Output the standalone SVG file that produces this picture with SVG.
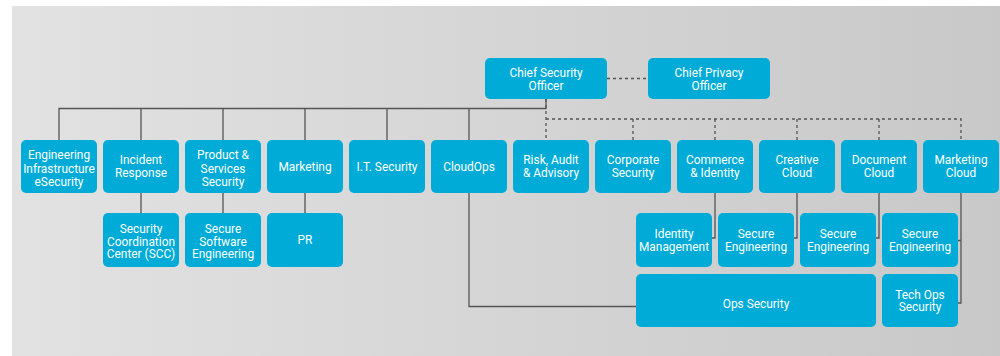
<svg xmlns="http://www.w3.org/2000/svg" width="1000" height="356" viewBox="0 0 1000 356">
<defs>
<linearGradient id="bg" x1="0" y1="0" x2="1" y2="0">
<stop offset="0" stop-color="#e2e2e2"/>
<stop offset="1" stop-color="#c8c8c8"/>
</linearGradient>
<style>
.b{fill:#00acd7;}
.t{font-family:Roboto,"Liberation Sans",sans-serif;font-size:11.9px;fill:#ffffff;text-anchor:middle;}
.c{fill:none;stroke:#555555;stroke-width:1.3;}
.d{fill:none;stroke:#555555;stroke-width:1.3;stroke-dasharray:3 3;}
</style>
</defs>
<rect x="0" y="0" width="1000" height="356" fill="#ffffff"/>
<rect x="12" y="6" width="988" height="350" fill="url(#bg)"/>
<g id="connectors">
<path class="d" d="M607 78.5H648"/>
<path class="c" d="M59 140V108.5H546V99"/>
<path class="c" d="M141 108.5V140M223 108.5V140M305 108.5V140M387 108.5V140M469 108.5V140"/>
<path class="d" d="M546 99V140"/>
<path class="d" d="M546 119H961V140M633 119V140M715 119V140M797 119V140M879 119V140"/>
<path class="c" d="M141 193V213M223 193V213M305 193V213"/>
<path class="c" d="M469 193V306.5H636"/>
<path class="c" d="M715 193V238H712"/>
<path class="c" d="M797 193V238H794"/>
<path class="c" d="M879 193V238H876"/>
<path class="c" d="M961 193V303H958M961 240.5H958"/>
</g>
<g id="cso"><rect class="b" x="485" y="58" width="122" height="41" rx="5"/><text class="t" x="546" y="76.6">Chief Security</text><text class="t" x="546" y="90">Officer</text></g>
<g id="cpo"><rect class="b" x="648" y="58" width="122" height="41" rx="5"/><text class="t" x="709" y="76.6">Chief Privacy</text><text class="t" x="709" y="90">Officer</text></g>
<g id="eng"><rect class="b" x="21" y="140" width="76" height="53" rx="5"/><text class="t" x="59" y="159.3">Engineering</text><text class="t" x="59" y="172.5">Infrastructure</text><text class="t" x="59" y="185.5">eSecurity</text></g>
<g id="incident"><rect class="b" x="103" y="140" width="76" height="53" rx="5"/><text class="t" x="141" y="164.3">Incident</text><text class="t" x="141" y="177.2">Response</text></g>
<g id="product"><rect class="b" x="185" y="140" width="76" height="53" rx="5"/><text class="t" x="223" y="159.3">Product &amp;</text><text class="t" x="223" y="172.5">Services</text><text class="t" x="223" y="185.5">Security</text></g>
<g id="marketing"><rect class="b" x="267" y="140" width="76" height="53" rx="5"/><text class="t" x="305" y="170.5">Marketing</text></g>
<g id="itsec"><rect class="b" x="349" y="140" width="76" height="53" rx="5"/><text class="t" x="387" y="170.5">I.T. Security</text></g>
<g id="cloudops"><rect class="b" x="431" y="140" width="76" height="53" rx="5"/><text class="t" x="469" y="170.5">CloudOps</text></g>
<g id="risk"><rect class="b" x="513" y="140" width="76" height="53" rx="5"/><text class="t" x="551" y="164.3">Risk, Audit</text><text class="t" x="551" y="177.2">&amp; Advisory</text></g>
<g id="corporate"><rect class="b" x="595" y="140" width="76" height="53" rx="5"/><text class="t" x="633" y="164.3">Corporate</text><text class="t" x="633" y="177.2">Security</text></g>
<g id="commerce"><rect class="b" x="677" y="140" width="76" height="53" rx="5"/><text class="t" x="715" y="164.3">Commerce</text><text class="t" x="715" y="177.2">&amp; Identity</text></g>
<g id="creative"><rect class="b" x="759" y="140" width="76" height="53" rx="5"/><text class="t" x="797" y="164.3">Creative</text><text class="t" x="797" y="177.2">Cloud</text></g>
<g id="document"><rect class="b" x="841" y="140" width="76" height="53" rx="5"/><text class="t" x="879" y="164.3">Document</text><text class="t" x="879" y="177.2">Cloud</text></g>
<g id="mktcloud"><rect class="b" x="923" y="140" width="76" height="53" rx="5"/><text class="t" x="961" y="164.3">Marketing</text><text class="t" x="961" y="177.2">Cloud</text></g>
<g id="scc"><rect class="b" x="103" y="213" width="76" height="54" rx="5"/><text class="t" x="141" y="233.3">Security</text><text class="t" x="141" y="245.8">Coordination</text><text class="t" x="141" y="258.3">Center (SCC)</text></g>
<g id="sse"><rect class="b" x="185" y="213" width="76" height="54" rx="5"/><text class="t" x="223" y="233.3">Secure</text><text class="t" x="223" y="245.8">Software</text><text class="t" x="223" y="258.3">Engineering</text></g>
<g id="pr"><rect class="b" x="267" y="213" width="76" height="54" rx="5"/><text class="t" x="305" y="243.5">PR</text></g>
<g id="idm"><rect class="b" x="636" y="213" width="76" height="54" rx="5"/><text class="t" x="674" y="238.3">Identity</text><text class="t" x="674" y="251">Management</text></g>
<g id="se1"><rect class="b" x="718" y="213" width="76" height="54" rx="5"/><text class="t" x="756" y="238.3">Secure</text><text class="t" x="756" y="251">Engineering</text></g>
<g id="se2"><rect class="b" x="800" y="213" width="76" height="54" rx="5"/><text class="t" x="838" y="238.3">Secure</text><text class="t" x="838" y="251">Engineering</text></g>
<g id="se3"><rect class="b" x="882" y="213" width="76" height="54" rx="5"/><text class="t" x="920" y="238.3">Secure</text><text class="t" x="920" y="251">Engineering</text></g>
<g id="opssec"><rect class="b" x="636" y="274" width="240" height="53" rx="5"/><text class="t" x="756" y="307.6">Ops Security</text></g>
<g id="techops"><rect class="b" x="882" y="274" width="76" height="53" rx="5"/><text class="t" x="920" y="298.6">Tech Ops</text><text class="t" x="920" y="311.4">Security</text></g>
</svg>
